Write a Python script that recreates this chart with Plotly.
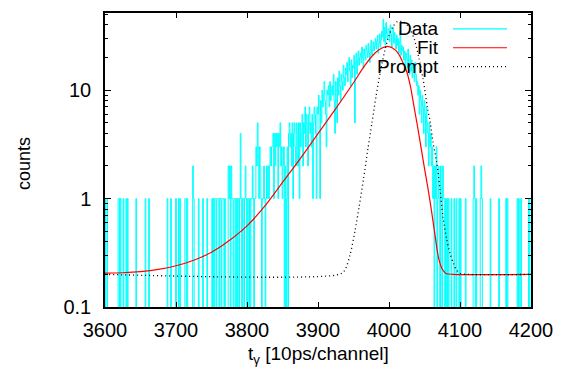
import numpy as np
import plotly.graph_objects as go

# ---------------- data ----------------
channel_start = 3600
counts = [
    1, 0, 1, 1, 0, 0, 0, 0, 0, 0, 0, 0, 0, 0, 0, 0, 0, 0, 0, 1,          # 3600
    1, 0, 1, 0, 0, 0, 1, 0, 0, 0, 1, 0, 1, 0, 0, 0, 0, 0, 0, 0,          # 3620
    0, 0, 0, 0, 1, 0, 0, 0, 0, 0, 0, 0, 0, 0, 0, 0, 0, 1, 0, 0,          # 3640
    0, 0, 1, 0, 0, 0, 0, 0, 0, 0, 0, 0, 0, 0, 0, 0, 0, 0, 0, 0,          # 3660
    0, 0, 0, 0, 0, 0, 0, 0, 1, 0, 0, 0, 0, 1, 0, 0, 0, 0, 0, 0,          # 3680
    1, 0, 0, 0, 1, 0, 1, 0, 0, 0, 0, 0, 0, 1, 1, 0, 1, 0, 0, 0,          # 3700
    0, 0, 0, 0, 2, 1, 0, 0, 0, 0, 0, 0, 1, 0, 0, 0, 0, 0, 1, 0,          # 3720
    0, 0, 0, 0, 1, 0, 0, 0, 0, 0, 0, 1, 0, 1, 0, 1, 1, 0, 1, 1,          # 3740
    1, 0, 1, 1, 0, 1, 1, 1, 0, 1, 0, 0, 0, 0, 2, 1, 2, 0, 2, 1,          # 3760
    1, 0, 1, 1, 0, 1, 0, 1, 1, 0, 1, 4, 1, 0, 1, 1, 0, 1, 2, 1,          # 3780
    0, 1, 1, 0, 1, 0, 1, 1, 2, 1, 0, 1, 1, 3, 2, 5, 3, 1, 3, 2,          # 3800
    1, 0, 1, 1, 2, 1, 0, 1, 2, 1, 2, 1, 2, 3, 2, 3, 3, 4, 1, 4,          # 3820
    2, 4, 3, 4, 1, 4, 3, 5, 2, 3, 1, 2, 3, 0, 2, 0, 1, 3, 0, 4,          # 3840
    5, 3, 4, 2, 5, 1, 4, 5, 3, 2, 5, 4, 2, 5, 1, 5, 3, 4, 6, 2,          # 3860
    5, 4, 7, 3, 6, 5, 2, 6, 7, 4, 5, 3, 6, 1, 5, 7, 6, 4, 1, 7,          # 3880
    6, 9, 4, 1, 8, 5, 10, 7, 9, 12, 8, 6, 3, 10, 9, 11, 7, 12, 8, 10,    # 3900
    11, 9, 14, 8, 4, 12, 10, 5, 13, 9, 15, 11, 8, 14, 12, 10, 17, 13, 11, 16,   # 3920
    14, 18, 12, 16, 20, 15, 11, 19, 13, 17, 16, 21, 5, 18, 22, 14, 19, 23, 17, 20,  # 3940
    22, 18, 25, 20, 16, 24, 21, 19, 26, 23, 20, 27, 22, 18, 25, 29, 21, 24, 28, 23,  # 3960
    26, 30, 24, 28, 32, 22, 27, 33, 25, 29, 35, 31, 45, 28, 38, 26, 42, 33, 30, 37,  # 3980
    36, 28, 40, 33, 25, 31, 38, 27, 34, 29, 24, 32, 26, 30, 22, 28, 35, 21, 26, 23,  # 4000
    25, 19, 23, 17, 22, 20, 16, 24, 18, 14, 21, 15, 19, 13, 17, 16, 12, 18, 14, 11,  # 4020
    12, 9, 11, 6, 10, 8, 5, 9, 7, 4, 8, 6, 3, 7, 5, 4, 2, 5, 3, 4,      # 4040
    2, 3, 1, 2, 0, 2, 1, 3, 0, 1, 2, 1, 0, 2, 1, 0, 2, 1, 1, 0,          # 4060
    1, 0, 1, 0, 1, 0, 0, 0, 1, 0, 0, 0, 1, 0, 0, 1, 0, 0, 0, 1,          # 4080
    0, 1, 0, 0, 0, 0, 0, 0, 1, 0, 0, 0, 0, 0, 0, 0, 0, 0, 0, 1,          # 4100
    2, 1, 0, 1, 0, 0, 0, 0, 0, 1, 2, 1, 0, 0, 0, 0, 0, 0, 0, 0,          # 4120
    0, 0, 0, 1, 0, 0, 0, 0, 0, 0, 0, 0, 0, 0, 0, 1, 0, 0, 0, 0,          # 4140
    0, 0, 0, 0, 0, 1, 0, 1, 0, 0, 0, 0, 0, 0, 0, 0, 0, 0, 0, 0,          # 4160
    0, 1, 0, 1, 0, 0, 1, 0, 0, 0, 0, 0, 0, 0, 0, 0, 0, 1, 0, 1,          # 4180
]

fit_channels = [3600, 3625, 3650, 3675, 3700, 3725, 3750, 3775, 3800, 3825,
                3850, 3875, 3900, 3925, 3950, 3965, 3980, 3990, 3998, 4005,
                4013, 4020, 4025, 4030, 4035, 4040, 4045, 4050, 4055, 4060,
                4065, 4070, 4075, 4080, 4090, 4200]
fit_values = [0.205, 0.207, 0.212, 0.222, 0.24, 0.27, 0.32, 0.41, 0.56, 0.85,
              1.41, 2.34, 3.98, 6.76, 11.7, 16.6, 21.9, 24.5, 25.4, 24.5,
              21.9, 17.8, 14.8, 11.0, 7.2, 4.7, 3.0, 1.9, 1.23, 0.76,
              0.45, 0.28, 0.224, 0.204, 0.2, 0.2]

prompt_channels = [3600, 3930, 3938, 3945, 3952, 3958, 3964, 3970, 3976, 3982,
                   3988, 3994, 4000, 4006, 4012, 4018, 4024, 4030, 4036, 4042,
                   4048, 4054, 4058, 4062, 4067, 4072, 4076, 4081, 4086, 4091,
                   4095, 4100, 4110, 4200]
prompt_values = [0.2, 0.2, 0.22, 0.3, 0.5, 0.85, 1.5, 2.8, 5.0, 9.0,
                 15, 23, 32, 39, 43, 43, 41, 36, 29, 20,
                 12.7, 7.0, 5.1, 3.3, 2.2, 1.2, 0.68, 0.43, 0.31, 0.25,
                 0.22, 0.205, 0.2, 0.2]

x_tickvals = [3600, 3700, 3800, 3900, 4000, 4100, 4200]
y_tickvals = [0.1, 1, 10]
y_ticktext = ["0.1", "1", "10"]
y_minorvals = [0.2, 0.3, 0.4, 0.5, 0.6, 0.7, 0.8, 0.9,
               2, 3, 4, 5, 6, 7, 8, 9, 20, 30, 40, 50]
legend_names = ["Data", "Fit", "Prompt"]

# ---------------- figure ----------------
FONT = "Liberation Sans, Arial, Helvetica, sans-serif"
LOW = 0.095   # zero counts: drawn down to the bottom of the log axis

# gnuplot-like "histeps" outline of the histogram, broken where counts are zero
step_x, step_y = [], []
prev = 0
for i, v in enumerate(counts):
    c = channel_start + i
    e0, e1 = c - 0.5, c + 0.5
    if v > 0:
        step_x += [e0, e0, e1]
        step_y += [prev if prev > 0 else LOW, v, v]
    elif prev > 0:
        step_x += [e0, e0, None]
        step_y += [prev, LOW, None]
    prev = v

fig = go.Figure()
fig.add_trace(go.Scatter(x=step_x, y=step_y, mode="lines", name=legend_names[0],
                         connectgaps=False,
                         line=dict(color="#00FFFF", width=1.0, simplify=False)))
fig.add_trace(go.Scatter(x=fit_channels, y=fit_values, mode="lines", name=legend_names[1],
                         line=dict(color="#FF0000", width=1.2, shape="spline", smoothing=0.8)))
fig.add_trace(go.Scatter(x=prompt_channels, y=prompt_values, mode="lines", name=legend_names[2],
                         line=dict(color="black", width=1.3, shape="spline", smoothing=0.8,
                                   dash="1px,3px")))

axis_common = dict(showline=True, linecolor="black", linewidth=1.5, mirror="ticks",
                   ticks="inside", tickcolor="black", showgrid=False, zeroline=False,
                   tickfont=dict(family=FONT, size=20, color="black"))

fig.update_xaxes(range=[3600, 4200], tickvals=x_tickvals, ticklen=5, tickwidth=1,
                 ticklabelstandoff=4, **axis_common)
fig.update_yaxes(type="log", range=[-1, 1.712], tickvals=y_tickvals, ticktext=y_ticktext,
                 ticklen=6, tickwidth=1, ticklabelstandoff=8,
                 minor=dict(tickvals=y_minorvals, ticks="inside", ticklen=3,
                            tickcolor="black", tickwidth=1, showgrid=False),
                 **axis_common)

# page offset of the figure (browser body margin)
OFF = 8
# plot-area edges in page pixels
px_l, px_r, px_t, px_b = 105, 531, 11, 307
W, H = px_r - px_l, px_b - px_t
def px2x(px):
    return (px - px_l) / W
def py2y(py):
    return (px_b - py) / H

key_rows = [27, 46, 65]
key_styles = [dict(color="#00FFFF", width=1.2),
              dict(color="#FF0000", width=1.2),
              dict(color="black", width=1.3, dash="1px,3px")]
for name, row, sty in zip(legend_names, key_rows, key_styles):
    fig.add_annotation(x=px2x(441), y=py2y(row), xref="paper", yref="paper",
                       text=name, showarrow=False, xanchor="right", yanchor="middle",
                       font=dict(family=FONT, size=19, color="black"))
    fig.add_shape(type="line", xref="paper", yref="paper",
                  x0=px2x(453), x1=px2x(507), y0=py2y(row), y1=py2y(row), line=sty)

fig.add_annotation(x=0.5, y=py2y(355), xref="paper", yref="paper",
                   text="t<sub>γ</sub> [10ps/channel]", showarrow=False,
                   xanchor="center", yanchor="middle",
                   font=dict(family=FONT, size=19, color="black"))
fig.add_annotation(x=px2x(24), y=py2y(163), xref="paper", yref="paper",
                   text="counts", showarrow=False, textangle=-90,
                   xanchor="center", yanchor="middle",
                   font=dict(family=FONT, size=18, color="black"))

fig.update_layout(width=570 - OFF, height=371 - OFF, showlegend=False,
                  margin=dict(l=px_l - OFF, r=570 - px_r, t=px_t - OFF, b=371 - px_b),
                  paper_bgcolor="white", plot_bgcolor="white",
                  font=dict(family=FONT, color="black"))

fig.write_html("out.html")
